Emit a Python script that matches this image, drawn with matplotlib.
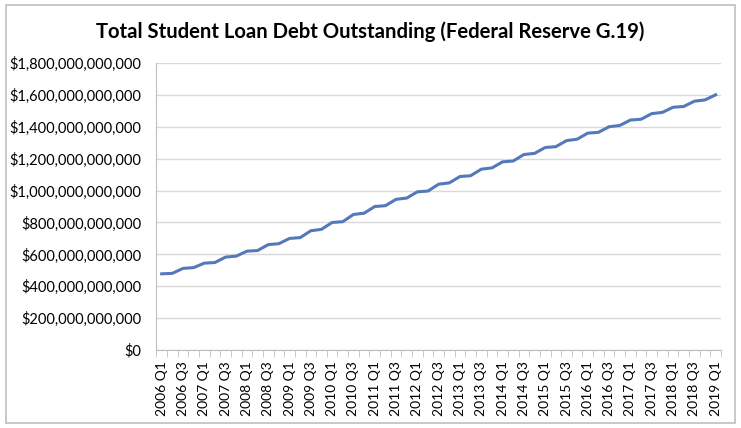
import matplotlib.pyplot as plt
from matplotlib.ticker import FuncFormatter, MultipleLocator
from matplotlib.patches import Rectangle

years = list(range(2006, 2020))
quarters = ['Q1', 'Q2', 'Q3', 'Q4']
labels = [f'{y} {q}' for y in years for q in quarters][:53]

# billions of dollars
debt_bn = [
    478, 481, 512, 517,
    545, 549, 583, 589,
    620, 624, 661, 667,
    700, 705, 748, 757,
    800, 805, 850, 858,
    900, 905, 945, 953,
    992, 997, 1040, 1048,
    1088, 1093, 1134, 1142,
    1180, 1185, 1226, 1233,
    1270, 1275, 1313, 1322,
    1360, 1365, 1400, 1408,
    1442, 1447, 1482, 1490,
    1522, 1527, 1560, 1568,
    1600,
]

plt.rcParams['font.family'] = ['Lato', 'DejaVu Sans']

fig = plt.figure(figsize=(7.41, 4.28), dpi=100)
fig.patches.append(Rectangle((0.008, 0.012), 0.984, 0.976, transform=fig.transFigure,
                             fill=False, edgecolor='#bfbfbf', linewidth=1.2))

ax = fig.add_axes([0.211, 0.182, 0.762, 0.671])
x = list(range(len(debt_bn)))
ax.plot(x, [v * 1e9 for v in debt_bn], color='#5479BA', linewidth=2.2)

ax.set_xlim(-0.5, len(debt_bn) - 0.5)
ax.set_ylim(0, 1.8e12)
ax.yaxis.set_major_locator(MultipleLocator(2e11))
ax.yaxis.set_major_formatter(FuncFormatter(lambda v, p: f'${v:,.0f}'))
ax.grid(axis='y', color='#d9d9d9', linewidth=1)
ax.set_axisbelow(True)

ax.set_xticks(x[::2])
ax.set_xticklabels(labels[::2], rotation=90, fontsize=10)
ax.set_xticks([i - 0.5 for i in range(len(debt_bn) + 1)], minor=True)
ax.tick_params(axis='x', which='major', length=0, pad=8)
ax.tick_params(axis='x', which='minor', length=5, color='#bfbfbf')
ax.tick_params(axis='y', length=0, labelsize=10.5, pad=11)

for s in ['top', 'right']:
    ax.spines[s].set_visible(False)
for s in ['left', 'bottom']:
    ax.spines[s].set_color('#bfbfbf')

fig.text(0.5, 0.925, 'Total Student Loan Debt Outstanding (Federal Reserve G.19)',
         ha='center', va='center', fontsize=14.6, fontweight='bold')

fig.savefig('out.png', dpi=100)
